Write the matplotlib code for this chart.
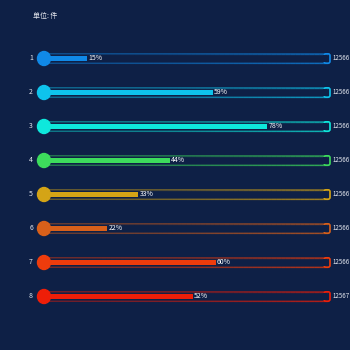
import matplotlib
matplotlib.use("Agg")
import matplotlib.pyplot as plt
import numpy as np
from matplotlib.collections import LineCollection
from matplotlib.patches import Ellipse, FancyBboxPatch
from matplotlib.colors import to_rgba

plt.rcParams['font.family'] = ['Noto Sans CJK SC', 'DejaVu Sans']

categories = ['1', '2', '3', '4', '5', '6', '7', '8']
percents = [15, 59, 78, 44, 33, 22, 60, 52]
totals = ['12566', '12566', '12566', '12566', '12566', '12566', '12566', '12567']
colors = ['#1089e7', '#0ec3ec', '#0ee8dc', '#3ddc5c', '#d4a416', '#d8601a', '#ee3c0c', '#ee1e08']
unit_label = '单位: 件'

BG = '#0e2046'
fig = plt.figure(figsize=(3.5, 3.5), dpi=100, facecolor=BG)
ax = fig.add_axes([0, 0, 1, 1])
ax.set_facecolor(BG)
ax.set_xlim(0, 350)
ax.set_ylim(350, 0)
ax.axis('off')

x0, x1 = 44, 330
y_first, step = 58.5, 34
box_h = 9.5
bar_h = 4.5

ax.text(33, 16, unit_label, color='#e6e9f0', fontsize=5, va='center', ha='left')

for i, (cat, p, tot, c) in enumerate(zip(categories, percents, totals, colors)):
    yc = y_first + i * step
    base = np.array(to_rgba(c))
    # faint full outline
    ax.add_patch(FancyBboxPatch((x0, yc - box_h / 2), x1 - x0, box_h,
                                boxstyle='round,pad=0,rounding_size=2',
                                fill=False, edgecolor=(base[0], base[1], base[2], 0.45),
                                linewidth=1.0, zorder=1))
    # gradient outline top & bottom
    n = 60
    xs = np.linspace(x0, x1 - 2, n + 1)
    for yy in (yc - box_h / 2, yc + box_h / 2):
        segs = [[(xs[k], yy), (xs[k + 1], yy)] for k in range(n)]
        cols = [(base[0], base[1], base[2], 0.55 * (k / n) ** 1.5) for k in range(n)]
        ax.add_collection(LineCollection(segs, colors=cols, linewidths=1.0, zorder=2))
    # bright right end
    ax.add_patch(FancyBboxPatch((x1 - 6, yc - box_h / 2), 6, box_h,
                                boxstyle='round,pad=0,rounding_size=2',
                                fill=False, edgecolor=c, linewidth=1.1, zorder=2))
    ax.add_patch(plt.Rectangle((x1 - 7, yc - box_h / 2 + 0.8), 3.5, box_h - 1.6,
                               facecolor=BG, edgecolor='none', zorder=2.5))
    # filled bar
    w = (x1 - x0) * p / 100
    ax.barh(yc, w, left=x0, height=bar_h, color=c, zorder=3)
    # circle
    ax.add_patch(Ellipse((x0, yc), 13, 14, color=c, zorder=4))
    # labels
    ax.text(x0 + w + 1.5, yc, f'{p}%', color='white', fontsize=5, va='center', ha='left', zorder=5)
    ax.text(31, yc, cat, color='#e6e9f0', fontsize=5, va='center', ha='center')
    ax.text(332.5, yc, tot, color='#e6e9f0', fontsize=4.4, va='center', ha='left')

fig.savefig('out.png', dpi=100, facecolor=BG)
